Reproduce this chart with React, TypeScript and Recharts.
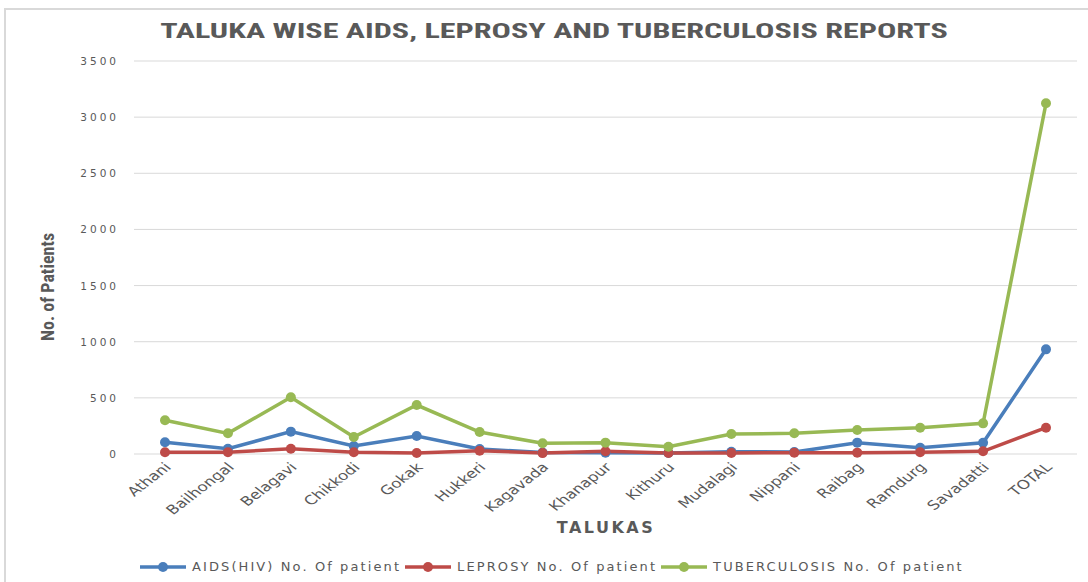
import { CartesianGrid, Line, LineChart, XAxis, YAxis, Legend } from "recharts";

const TALUKAS = [
  "Athani",
  "Bailhongal",
  "Belagavi",
  "Chikkodi",
  "Gokak",
  "Hukkeri",
  "Kagavada",
  "Khanapur",
  "Kithuru",
  "Mudalagi",
  "Nippani",
  "Raibag",
  "Ramdurg",
  "Savadatti",
  "TOTAL",
];

const AIDS = [104, 47, 199, 71, 160, 45, 13, 12, 9, 20, 18, 101, 56, 100, 932];
const LEPROSY = [15, 15, 47, 15, 9, 30, 8, 24, 9, 9, 12, 12, 15, 24, 234];
const TUBERCULOSIS = [300, 184, 505, 151, 436, 196, 95, 101, 65, 178, 184, 214, 234, 273, 3123];

const Y_TICKS = [0, 500, 1000, 1500, 2000, 2500, 3000, 3500];

const SERIES = [
  { key: "aids", name: "AIDS(HIV) No. Of patient", color: "#4a7ebb" },
  { key: "leprosy", name: "LEPROSY No. Of patient", color: "#be4b48" },
  { key: "tb", name: "TUBERCULOSIS No. Of patient", color: "#98b954" },
];

const chartData = TALUKAS.map((name, i) => ({
  name,
  aids: AIDS[i],
  leprosy: LEPROSY[i],
  tb: TUBERCULOSIS[i],
}));

const TEXT = "#595959";
const TICK_FONT = "'DejaVu Sans', Verdana, sans-serif";
const NARROW = "'Roboto Condensed', 'Liberation Sans Narrow', 'Liberation Sans', sans-serif";

// the source picture is stretched sideways, so labels are drawn with a scaleX
function XTick(props: any) {
  const { x, y, payload } = props;
  return (
    <g transform={`translate(${x + 7}, ${y + 6}) scale(1.3, 1) rotate(-45)`}>
      <text x={0} y={0} textAnchor="end" fontSize={12.8} fill={TEXT} fontFamily={TICK_FONT}>
        {payload.value}
      </text>
    </g>
  );
}

function YTick(props: any) {
  const { y, payload } = props;
  return (
    <text x={119} y={y + 4} textAnchor="end" fontSize={10.5} fill={TEXT} fontFamily={TICK_FONT} letterSpacing={3}>
      {payload.value}
    </text>
  );
}

function LegendContent() {
  return (
    <div style={{ display: "flex", alignItems: "center", paddingLeft: 140, fontFamily: TICK_FONT, fontSize: 13, color: TEXT, letterSpacing: 2.1 }}>
      {SERIES.map((s) => (
        <div key={s.key} style={{ display: "flex", alignItems: "center", marginRight: 4 }}>
          <svg width={46} height={14}>
            <line x1={0} y1={7} x2={46} y2={7} stroke={s.color} strokeWidth={3.5} />
            <circle cx={23} cy={7} r={5} fill={s.color} />
          </svg>
          <span style={{ marginLeft: 6 }}>{s.name}</span>
        </div>
      ))}
    </div>
  );
}

export default function App() {
  return (
    <div style={{ position: "absolute", left: 0, top: 0, width: 1088, height: 582, background: "#fff", overflow: "hidden" }}>
      <div style={{ position: "absolute", left: 4, top: 8, width: 1084, height: 574, borderLeft: "2px solid #d9d9d9", borderTop: "2px solid #d9d9d9" }} />
      <div
        style={{
          position: "absolute",
          left: 554,
          top: 31,
          transform: "translate(-50%, -50%) scaleX(1.53)",
          whiteSpace: "nowrap",
          fontFamily: NARROW,
          fontWeight: "bold",
          fontSize: 21,
          color: TEXT,
        }}
      >
        TALUKA WISE AIDS, LEPROSY AND TUBERCULOSIS REPORTS
      </div>
      <div
        style={{
          position: "absolute",
          left: 47,
          top: 287,
          transform: "translate(-50%, -50%) rotate(-90deg)",
          whiteSpace: "nowrap",
          fontFamily: NARROW,
          fontWeight: "bold",
          fontSize: 18,
          color: TEXT,
        }}
      >
        No. of Patients
      </div>
      <div
        style={{
          position: "absolute",
          left: 606,
          top: 527,
          transform: "translate(-50%, -50%)",
          fontFamily: TICK_FONT,
          fontWeight: "bold",
          fontSize: 16,
          letterSpacing: 2.5,
          color: TEXT,
        }}
      >
        TALUKAS
      </div>
      <div style={{ position: "absolute", left: 0, top: 0 }}>
        <LineChart width={1088} height={582} data={chartData} margin={{ top: 61, right: 11, left: 14, bottom: 10 }}>
          <CartesianGrid vertical={false} stroke="#d9d9d9" />
          <XAxis
            dataKey="name"
            axisLine={false}
            tickLine={false}
            interval={0}
            height={90}
            padding={{ left: 31, right: 31 }}
            tick={<XTick />}
          />
          <YAxis width={120} domain={[0, 3500]} ticks={Y_TICKS} axisLine={false} tickLine={false} tick={<YTick />} />
          <Legend
            verticalAlign="bottom"
            height={28}
            content={<LegendContent />}
            wrapperStyle={{ top: 559, left: 0, bottom: "auto" }}
          />
          {SERIES.map((s) => (
            <Line
              key={s.key}
              type="linear"
              dataKey={s.key}
              name={s.name}
              stroke={s.color}
              strokeWidth={3.5}
              dot={{ r: 5, fill: s.color, stroke: s.color, strokeWidth: 0 }}
              isAnimationActive={false}
            />
          ))}
        </LineChart>
      </div>
    </div>
  );
}
